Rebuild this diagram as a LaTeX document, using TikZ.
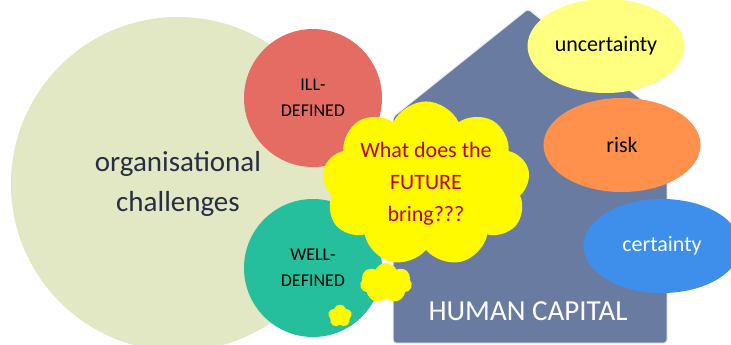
\documentclass[tikz,border=0pt]{standalone}
\usepackage{fontspec}
\setmainfont{Carlito}
\usetikzlibrary{positioning}
\usetikzlibrary{shapes.geometric}
\usetikzlibrary{shapes.symbols}

\definecolor{challengegreen}{RGB}{225,232,195}
\definecolor{illred}{RGB}{228,108,98}
\definecolor{wellteal}{RGB}{38,191,157}
\definecolor{houseblue}{RGB}{106,123,162}
\definecolor{paleyellow}{RGB}{255,255,128}
\definecolor{riskorange}{RGB}{255,145,77}
\definecolor{certainblue}{RGB}{61,143,235}
\definecolor{futureyellow}{RGB}{255,250,0}
\definecolor{futurered}{RGB}{190,0,40}
\definecolor{inkblue}{RGB}{40,45,70}

\begin{document}
\begin{tikzpicture}[
			x=1pt, y=-1pt,
			bubble/.style={circle, minimum size=138pt, inner sep=0pt, align=center, text=black, font=\fontsize{18}{26}\selectfont},
			oval/.style={ellipse, minimum width=157pt, minimum height=94pt, inner sep=0pt, align=center, font=\fontsize{22}{24}\selectfont},
			puff/.style={cloud, cloud puffs=9, cloud puff arc=130, aspect=1.4, fill=futureyellow, inner sep=0pt},
			]
			
			\useasboundingbox (0,0) rectangle (731,345);
			
			% left side: the challenges
			\node[circle, fill=challengegreen, minimum size=334pt, inner sep=0pt, align=center, text=inkblue, font=\fontsize{29}{40}\selectfont] (challenges) at (178,184) {organisational\\challenges};
			\node[bubble, fill=illred]         (ill)  at (313,98)  {ILL-\\DEFINED};
			\node[bubble, fill=wellteal]       (well) at (313,268) {WELL-\\DEFINED};
			
			% the house
			\filldraw[fill=houseblue, draw=white!85!houseblue, line width=1pt, rounded corners=3pt] (393,343) -- (393,117) -- (528,9) -- (667,120) -- (667,343) -- cycle;
			\node[text=white, font=\fontsize{29}{30}\selectfont] (capital) at (528,311) {HUMAN CAPITAL};
			
			% right side: the ovals
			\node[oval, fill=paleyellow, text=black]   (uncertainty) at (606,46)  {uncertainty};
			\node[oval, fill=riskorange, text=black]   (risk)        at (622,145) {risk};
			\node[oval, fill=certainblue, text=white]  (certainty)   at (662,246) {certainty};
			
			% the clouds
			\node[puff, minimum width=208pt, minimum height=145pt, align=center, text=futurered, font=\fontsize{22}{32}\selectfont] (future) at (426,184) {What does the\\FUTURE\\bring???};
			\node[puff, cloud puffs=7, minimum width=52pt, minimum height=40pt]  (smallpuff) at (386,283) {};
			\node[puff, cloud puffs=5, cloud puff arc=150, aspect=1, minimum width=24pt, minimum height=23pt] (tinypuff) at (340,316) {};
			
			\end{tikzpicture}
\end{document}
